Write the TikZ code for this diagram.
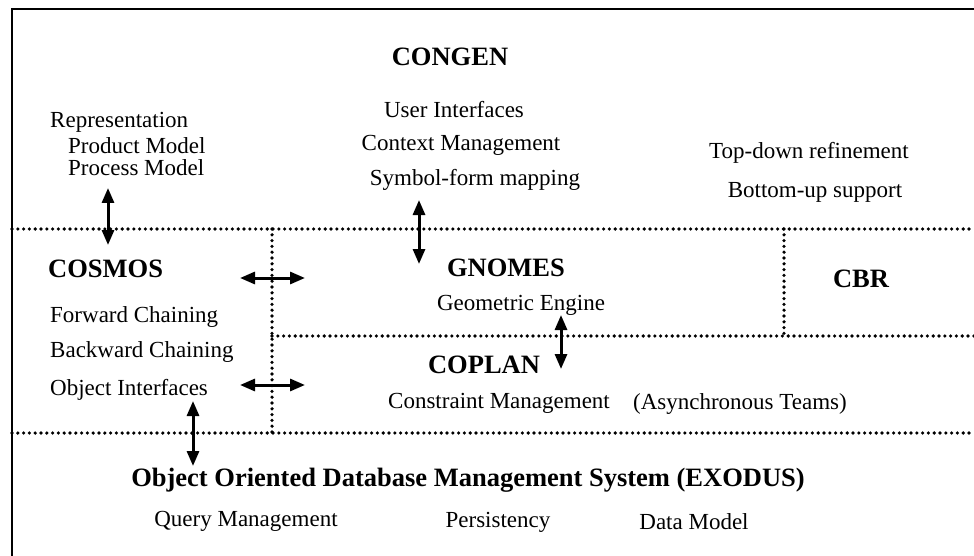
\documentclass[tikz,border=0pt]{standalone}
\usepackage{fontspec}
\setmainfont{Liberation Serif}
\usetikzlibrary{arrows.meta}
\begin{document}
\begin{tikzpicture}[x=1pt,y=-1pt,
  reg/.style={inner sep=0pt,font=\fontsize{23}{27}\selectfont},
  hd/.style={inner sep=0pt,font=\fontsize{26.5}{30}\selectfont\bfseries},
  border/.style={line width=2.5pt},
  sep/.style={line width=3.6pt,line cap=round,dash pattern=on 0pt off 5.8pt},
  dbl/.style={line width=3pt,{Triangle[length=15pt,width=12pt]}-{Triangle[length=15pt,width=12pt]}}]
\useasboundingbox (0,0) rectangle (974,556);
% frame
\draw[border] (974,9) -- (12,9) -- (12,556);
% separators
\draw[sep] (12,229) -- (974,229);
\draw[sep] (12,433) -- (974,433);
\draw[sep] (272,229) -- (272,433);
\draw[sep] (272,336) -- (974,336);
\draw[sep] (784,229) -- (784,336);
% texts
\node[hd] (congen) at (450,57) {CONGEN};
\node[reg] (ui) at (454,110) {User Interfaces};
\node[reg] (cm) at (461,145) {Context Management};
\node[reg] (sfm) at (475,180) {Symbol-form mapping};
\node[reg,anchor=west] (rep) at (50,122) {Representation};
\node[reg,anchor=west] (prod) at (68,146) {Product Model};
\node[reg,anchor=west] (proc) at (68,168) {Process Model};
\node[reg] (td) at (809,153) {Top-down refinement};
\node[reg] (bu) at (815,192) {Bottom-up support};
\node[hd,anchor=west] (cosmos) at (48,269) {COSMOS};
\node[reg,anchor=west] (fc) at (50,317) {Forward Chaining};
\node[reg,anchor=west] (bc) at (50,352) {Backward Chaining};
\node[reg,anchor=west] (oi) at (50,390) {Object Interfaces};
\node[hd] (gnomes) at (506,268) {GNOMES};
\node[reg] (ge) at (521,305) {Geometric Engine};
\node[hd] (cbr) at (861,279) {CBR};
\node[hd] (coplan) at (484,365) {COPLAN};
\node[reg,anchor=west] (cons) at (388,403) {Constraint Management};
\node[reg,anchor=east] (async) at (847,404) {(Asynchronous Teams)};
\node[hd] (oodb) at (468,480) {Object Oriented Database Management System (EXODUS)};
\node[reg] (qm) at (246,521) {Query Management};
\node[reg] (pers) at (498,522) {Persistency};
\node[reg] (dm) at (694,522) {Data Model};
% arrow end points
\coordinate (a1t) at (108,188); \coordinate (a1b) at (108,245);
\coordinate (a2t) at (419,200); \coordinate (a2b) at (419,264);
\coordinate (a3t) at (561,315); \coordinate (a3b) at (561,369);
\coordinate (a4t) at (193,401); \coordinate (a4b) at (193,466);
\coordinate (h1l) at (240,278); \coordinate (h1r) at (305,278);
\coordinate (h2l) at (240,385); \coordinate (h2r) at (305,385);
\draw[dbl] (a1t) -- (a1b);
\draw[dbl] (a2t) -- (a2b);
\draw[dbl] (a3t) -- (a3b);
\draw[dbl] (a4t) -- (a4b);
\draw[dbl] (h1l) -- (h1r);
\draw[dbl] (h2l) -- (h2r);
\end{tikzpicture}
\end{document}
